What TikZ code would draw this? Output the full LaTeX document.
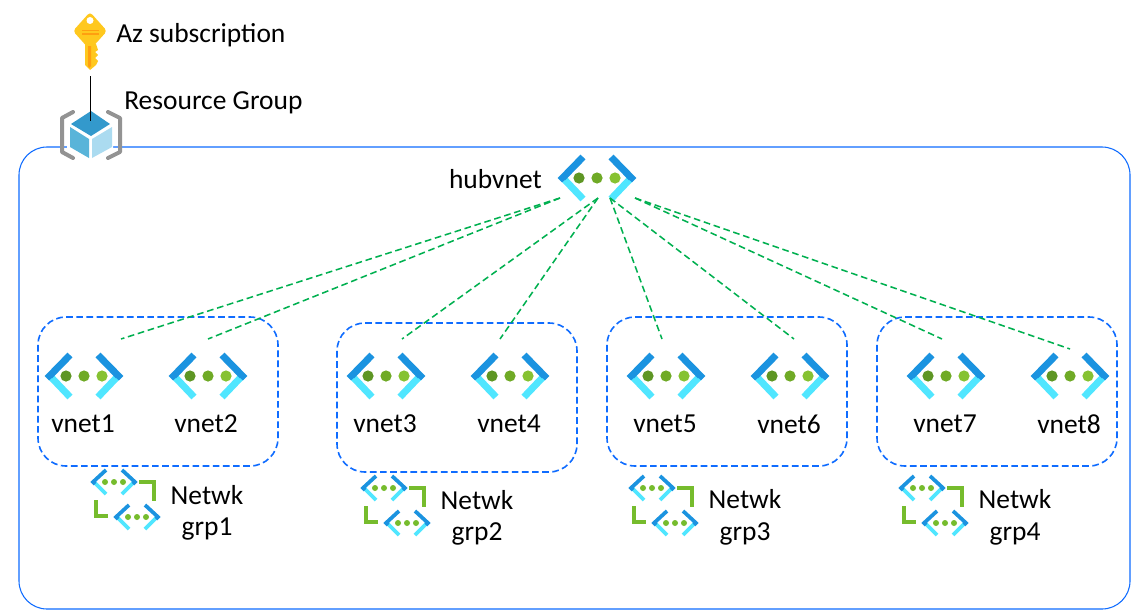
\documentclass[tikz,border=0pt]{standalone}
\usepackage{fontspec}
\setmainfont{Carlito}
\definecolor{armtop}{HTML}{1B93E0}
\definecolor{armlow}{HTML}{50E6FF}
\definecolor{dotA}{HTML}{5E9624}
\definecolor{dotB}{HTML}{6FAA26}
\definecolor{dotC}{HTML}{86C232}
\definecolor{grpgreen}{HTML}{76BC2D}
\definecolor{boxblue}{HTML}{0F6CFF}
\definecolor{linkgreen}{HTML}{00B050}
\definecolor{keyyellow}{HTML}{FFC81E}
\definecolor{keydark}{HTML}{FF9F10}
\definecolor{cubetopc}{HTML}{3399CC}
\definecolor{cubeleft}{HTML}{59B4D9}
\definecolor{cuberight}{HTML}{ABDBF0}
\tikzset{
  x=0.75pt,y=-0.75pt,
  lbl/.style={inner sep=0pt,font=\fontsize{20.6}{22}\selectfont,text=black},
  outerbox/.style={draw=boxblue,line width=0.8pt,rounded corners=21pt},
  grpbox/.style={draw=boxblue,line width=1.2pt,dash pattern=on 5pt off 2.6pt,rounded corners=21pt},
  link/.style={draw=linkgreen,line width=1.15pt,dash pattern=on 5pt off 2.8pt},
  pics/vnetbig/.style={code={
    \draw[armlow,line width=5.2pt] (-34,0) -- (-14,21);
    \draw[armlow,line width=5.2pt] (34,0) -- (14,21);
    \draw[armtop,line width=5.2pt,line join=miter] (-14,-21) -- (-34.5,0) -- (-32.5,2);
    \draw[armtop,line width=5.2pt,line join=miter] (14,-21) -- (34.5,0) -- (32.5,2);
    \fill[dotA] (-18,0) circle[radius=5.6];
    \fill[dotB] (0,0) circle[radius=5.6];
    \fill[dotC] (18,0) circle[radius=5.6];
  }},
  pics/vnetsmall/.style={code={
    \draw[armlow,line width=2.8pt] (-20,0) -- (-8,12);
    \draw[armlow,line width=2.8pt] (20,0) -- (8,12);
    \draw[armtop,line width=2.8pt,line join=miter] (-8,-12) -- (-21,0) -- (-19,2);
    \draw[armtop,line width=2.8pt,line join=miter] (8,-12) -- (21,0) -- (19,2);
    \fill[grpgreen] (-9,0) circle[radius=3] (0,0) circle[radius=3] (9,0) circle[radius=3];
  }},
  pics/netgrp/.style={code={
    \pic at (0,0) {vnetsmall};
    \pic at (23,35) {vnetsmall};
    \draw[grpgreen,line width=2.8pt,line join=miter] (25,0) -- (40,0) -- (40,19);
    \draw[grpgreen,line width=2.8pt,line join=miter] (-18,18) -- (-18,34) -- (-6,34);
  }},
}
\begin{document}
\begin{tikzpicture}
\useasboundingbox (0,0) rectangle (1137,614);
\fill[white] (0,0) rectangle (1137,614);

% outer resource-group frame
\draw[outerbox] (19,147) rectangle (1130,609);

% network groups
\draw[grpbox] (38,317) rectangle (278,466);
\draw[grpbox] (337,323) rectangle (577,472);
\draw[grpbox] (607,317) rectangle (847,466);
\draw[grpbox] (877,317) rectangle (1117,466);

% key
\fill[rounded corners=2.5pt,fill=keyyellow] (90,12) -- (107,31) -- (90,50) -- (73,31) -- cycle;
\fill[keyyellow] (85,44) -- (96,44) -- (98,50) -- (95,52) -- (98,55) -- (95,58) -- (98,61) -- (96,65) -- (90,70) -- (85,65) -- cycle;
\fill[keydark] (88,46) -- (91,46) -- (91,66) -- (89,68) -- (88,66) -- cycle;
\fill[keydark] (82,29.5) rectangle (99,31);
\fill[keydark] (82,33) rectangle (99,34.5);
\fill[white] (90,20.5) circle[radius=3.5];
\coordinate (keyfoot) at (90.5,76);

% resource-group cube
\draw[gray!85,line width=3pt,line join=round,line cap=round] (73,112) -- (62,118) -- (62,152) -- (73,158);
\draw[gray!85,line width=3pt,line join=round,line cap=round] (108,112) -- (120,118) -- (120,152) -- (108,158);
\fill[white] (91,110) -- (113,125) -- (113,150) -- (91,161) -- (67,150) -- (67,125) -- cycle;
\fill[cubetopc] (91,111) -- (110,124) -- (91,136) -- (71,124) -- cycle;
\fill[cubeleft] (70,127) -- (89,139) -- (89,158) -- (70,147) -- cycle;
\fill[cuberight] (92,139) -- (112,127) -- (112,147) -- (92,158) -- cycle;
\coordinate (cubetop) at (90.5,121);
\draw[black,line width=0.9pt] (keyfoot) -- (cubetop);

% text
\node[lbl,anchor=west] (subtxt) at (116,35) {Az subscription};
\node[lbl,anchor=west] (rgtxt) at (124,103) {Resource Group};
\node[lbl,anchor=east] (hubtxt) at (542,179) {hubvnet};

% hub
\pic at (597,178) {vnetbig};
\coordinate (hubA) at (560,198);
\coordinate (hubB) at (598,198);
\coordinate (hubC) at (610,198);
\coordinate (hubD) at (635,198);

% vnets
\foreach \nm/\cx/\tx in {1/84/83,2/208/206,3/386/385,4/510/509,5/666/665,6/790/789,7/946/945,8/1070/1069}{
  \pic at (\cx,376) {vnetbig};
  \node[lbl] (vnet\nm) at (\tx,424) {vnet\nm};
}

% link ends
\coordinate (e1) at (121,339);
\coordinate (e2) at (208,339);
\coordinate (e3) at (402,339);
\coordinate (e4) at (500,339);
\coordinate (e5) at (662,339);
\coordinate (e6) at (794,339);
\coordinate (e7) at (942,339);
\coordinate (e8) at (1070,349);
\draw[link] (hubA) -- (e1);
\draw[link] (hubA) -- (e2);
\draw[link] (hubB) -- (e3);
\draw[link] (hubB) -- (e4);
\draw[link] (hubC) -- (e5);
\draw[link] (hubC) -- (e6);
\draw[link] (hubD) -- (e7);
\draw[link] (hubD) -- (e8);

% group icons and captions
\pic at (114,482) {netgrp};
\pic at (384,488) {netgrp};
\pic at (652,488) {netgrp};
\pic at (922,488) {netgrp};
\node[lbl] (g1a) at (207,495) {Netwk};
\node[lbl] (g1b) at (207,529) {grp1};
\node[lbl] (g2a) at (477,500) {Netwk};
\node[lbl] (g2b) at (477,534) {grp2};
\node[lbl] (g3a) at (745,499) {Netwk};
\node[lbl] (g3b) at (745,534) {grp3};
\node[lbl] (g4a) at (1015,499) {Netwk};
\node[lbl] (g4b) at (1015,534) {grp4};
\end{tikzpicture}
\end{document}
